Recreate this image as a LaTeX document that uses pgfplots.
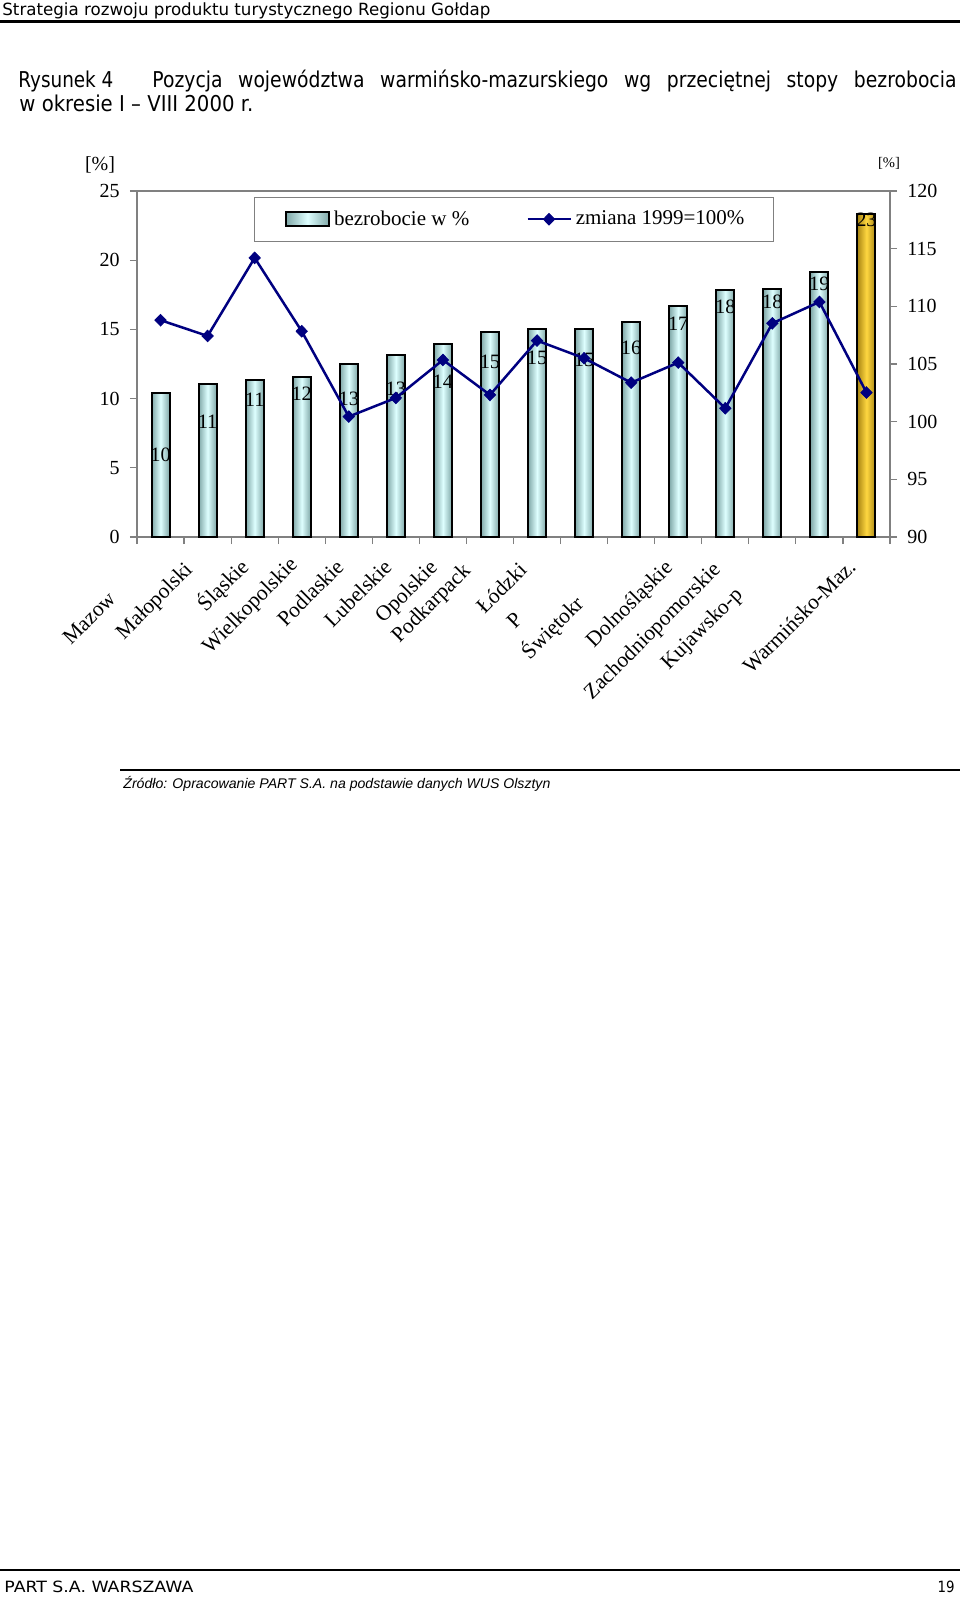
\documentclass[border=0pt]{standalone}
\usepackage{fontspec}
\setmainfont{Liberation Serif}
\newfontfamily\tahoma{DejaVu Sans}
\newfontfamily\arialf{Liberation Sans}
\usepackage{graphicx}
\usepackage{pgfplots}
\pgfplotsset{compat=1.18}
\definecolor{navyline}{RGB}{0,0,128}
\definecolor{baredge}{RGB}{128,168,168}
\definecolor{barmid}{RGB}{222,255,255}
\definecolor{goldedge}{RGB}{170,135,20}
\definecolor{goldmid}{RGB}{255,215,64}
\definecolor{axgray}{RGB}{128,128,128}
\tikzset{cyanbar/.style={draw=black, line width=1bp, left color=baredge, right color=baredge, middle color=barmid},
  goldbar/.style={draw=black, line width=1bp, left color=goldedge, right color=goldedge, middle color=goldmid}}
\begin{document}
\begin{tikzpicture}[x=0.5bp,y=-0.5bp]
\path[use as bounding box, fill=white] (0,0) rectangle (960,1597);
% header
\node[anchor=base west, inner sep=0pt] at (2,15) {\resizebox{244bp}{\height}{\fontsize{8.4bp}{10bp}\tahoma Strategia rozwoju produktu turystycznego Regionu Gołdap}};
\draw[line width=1.3bp] (0,21.7) -- (960,21.7);
% title
\node[anchor=base west, inner sep=0pt] at (18,87.3) {\resizebox{47.5bp}{\height}{\fontsize{10.9bp}{12bp}\tahoma Rysunek 4}};
\node[anchor=base west, inner sep=0pt] at (152,87.3) {\resizebox{402bp}{\height}{\fontsize{10.9bp}{12bp}\tahoma\makebox[467bp][s]{Pozycja województwa warmińsko-mazurskiego wg przeciętnej stopy bezrobocia}}};
\node[anchor=base west, inner sep=0pt] at (19,111) {\resizebox{117bp}{\height}{\fontsize{10.9bp}{12bp}\tahoma w okresie I – VIII 2000 r.}};
% unit labels
\node[font=\fontsize{10bp}{12bp}\selectfont, inner sep=0pt] at (100,165) {[\%]};
\node[font=\fontsize{7.3bp}{9bp}\selectfont, inner sep=0pt] at (889,163) {[\%]};
\coordinate (O) at (137,537);
\begin{scope}[x={(1cm,0cm)},y={(0cm,1cm)}]
\begin{axis}[at={(O)}, anchor=south west, scale only axis,
  width=376.5bp, height=173bp,
  xmin=-0.5, xmax=15.5, ymin=0, ymax=25,
  ytick={0,5,...,25},
  xtick={-0.5,0.5,...,15.5}, xticklabels={},
  tick align=outside, major tick length=3.5bp,
  xtick pos=bottom, ytick pos=left,
  axis line style={axgray, line width=0.7bp},
  tick style={axgray, line width=0.6bp},
  ticklabel style={font=\fontsize{10bp}{12bp}\selectfont},
  /pgf/number format/assume math mode=true,
  yticklabel style={anchor=east, inner sep=0pt, xshift=-5bp},
  ybar, bar width=9bp, bar shift=0pt, clip=false]
\addplot[cyanbar] coordinates {(0,10.43)};
\addplot[cyanbar] coordinates {(1,11.05)};
\addplot[cyanbar] coordinates {(2,11.34)};
\addplot[cyanbar] coordinates {(3,11.56)};
\addplot[cyanbar] coordinates {(4,12.52)};
\addplot[cyanbar] coordinates {(5,13.13)};
\addplot[cyanbar] coordinates {(6,13.92)};
\addplot[cyanbar] coordinates {(7,14.81)};
\addplot[cyanbar] coordinates {(8,15.05)};
\addplot[cyanbar] coordinates {(9,15.05)};
\addplot[cyanbar] coordinates {(10,15.53)};
\addplot[cyanbar] coordinates {(11,16.69)};
\addplot[cyanbar] coordinates {(12,17.82)};
\addplot[cyanbar] coordinates {(13,17.94)};
\addplot[cyanbar] coordinates {(14,19.15)};
\addplot[goldbar] coordinates {(15,23.34)};
\begin{scope}[every node/.style={font=\fontsize{10.2bp}{12bp}\selectfont, inner sep=0pt}]
\node at (axis cs:0,5.92) {10};
\node at (axis cs:1,8.33) {11};
\node at (axis cs:2,9.9) {11};
\node at (axis cs:3,10.33) {12};
\node at (axis cs:4,10.0) {13};
\node at (axis cs:5,10.74) {13};
\node at (axis cs:6,11.22) {14};
\node at (axis cs:7,12.67) {15};
\node at (axis cs:8,12.91) {15};
\node at (axis cs:9,12.79) {15};
\node at (axis cs:10,13.7) {16};
\node at (axis cs:11,15.39) {17};
\node at (axis cs:12,16.64) {18};
\node at (axis cs:13,16.96) {18};
\node at (axis cs:14,18.28) {19};
\node at (axis cs:15,22.9) {23};
\end{scope}
\end{axis}
\begin{axis}[at={(O)}, anchor=south west, scale only axis,
  width=376.5bp, height=173bp,
  xmin=-0.5, xmax=15.5, ymin=90, ymax=120,
  ytick={90,95,...,120},
  axis x line=none, axis y line*=right,
  tick align=outside, major tick length=3.5bp,
  axis line style={axgray, line width=0.7bp},
  tick style={axgray, line width=0.6bp},
  ticklabel style={font=\fontsize{10bp}{12bp}\selectfont},
  /pgf/number format/assume math mode=true,
  yticklabel style={anchor=west, inner sep=0pt, xshift=5bp},
  legend columns=2,
  legend style={at={(0.1554,0.9827)}, anchor=north west, draw=axgray, line width=0.5bp,
    font=\fontsize{10.5bp}{12bp}\selectfont, inner xsep=12.5bp, inner ysep=4.5bp,
    /tikz/every even column/.append style={column sep=23.5bp}},
  clip=false]
\addlegendimage{legend image code/.code={\path (0bp,0bp); \draw[cyanbar] (3bp,-3.5bp) rectangle (24.5bp,3.5bp);}}
\addlegendentry{bezrobocie w \%}
\addplot[navyline, line width=1.25bp, mark=diamond*, mark size=2.9bp,
  mark options={xscale=1.3, fill=navyline, draw=navyline, line width=0.4bp},
  legend image code/.code={\path (0bp,0bp); \draw[mark repeat=2,mark phase=2] plot coordinates {(3bp,0bp) (13.75bp,0bp) (24.5bp,0bp)};}]
  coordinates {(0,108.8) (1,107.43) (2,114.2) (3,107.84) (4,100.44) (5,102.06) (6,105.35) (7,102.32) (8,107.03) (9,105.5) (10,103.38) (11,105.12) (12,101.16) (13,108.53) (14,110.38) (15,102.52)};
\addlegendentry{zmiana 1999=100\%}
\end{axis}
\end{scope}
% category labels
\foreach \t/\xx/\yy in {Mazow/112/595, Małopolski/190/567, Śląskie/245/563, Wielkopolskie/295/562, Podlaskie/340/563, Lubelskie/388/563, Opolskie/435/565, Podkarpack/468/568, Łódzki/523/566, P/519/616, Świętokr/580/600, Dolnośląskie/670/565, Zachodniopomorskie/718/567, Kujawsko-p/740/592, Warmińsko-Maz./852/563}
  \node[rotate=45, anchor=east, inner sep=0pt, font=\fontsize{10.75bp}{12bp}\selectfont] at (\xx,\yy) {\t};
% source
\draw[line width=1.3bp] (120,770) -- (960,770);
\node[anchor=base west, inner sep=0pt] at (123,788) {\resizebox{213.5bp}{\height}{\fontsize{7bp}{8bp}\arialf\itshape Źródło: Opracowanie PART S.A. na podstawie danych WUS Olsztyn}};
% footer
\draw[line width=1.1bp] (0,1570) -- (960,1570);
\node[anchor=base west, inner sep=0pt] at (4,1592) {\resizebox{94.5bp}{\height}{\fontsize{7.75bp}{9bp}\tahoma PART S.A. WARSZAWA}};
\node[anchor=base east, inner sep=0pt] at (955,1592) {\scalebox{0.86}[1]{\fontsize{7.75bp}{9bp}\tahoma 19}};
\end{tikzpicture}
\end{document}
